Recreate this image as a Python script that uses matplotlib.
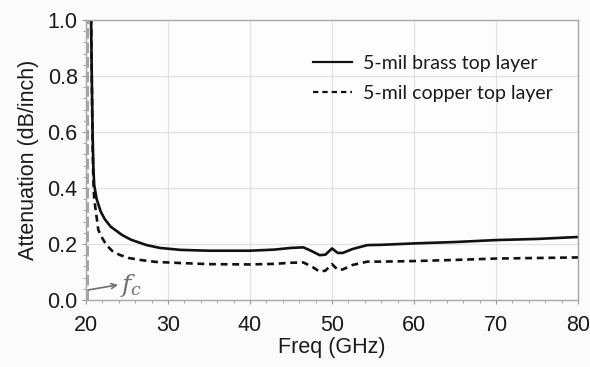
import matplotlib.pyplot as plt
from matplotlib.lines import Line2D
from matplotlib.ticker import MultipleLocator

# 5-mil brass top layer
freq_brass = [20.6, 20.7, 20.8, 20.9, 21.0, 21.3, 21.8, 22.3, 23.0, 24.4, 25.5,
              27.4, 29.0, 31.5, 35, 40, 43, 45, 46.5, 47.5, 48.5, 49.2, 50,
              50.7, 51.3, 52.5, 54.3, 56, 60, 65, 70, 75, 80]
atten_brass = [1.05, 0.80, 0.60, 0.47, 0.41, 0.36, 0.315, 0.288, 0.262, 0.232,
               0.215, 0.196, 0.186, 0.179, 0.176, 0.176, 0.180, 0.186, 0.188,
               0.175, 0.160, 0.162, 0.184, 0.168, 0.168, 0.182, 0.196, 0.197,
               0.202, 0.207, 0.214, 0.218, 0.225]

# 5-mil copper top layer
freq_copper = [20.6, 20.7, 20.8, 20.9, 21.0, 21.5, 22.0, 22.5, 23.2, 24.1,
               25.2, 26.6, 28.5, 31.5, 35, 40, 43, 45, 46.5, 47.5, 48.5, 49.2,
               50, 50.7, 51.3, 52.5, 54.3, 56, 60, 65, 70, 75, 80]
atten_copper = [1.05, 0.80, 0.55, 0.42, 0.36, 0.25, 0.22, 0.196, 0.175, 0.161,
                0.150, 0.143, 0.136, 0.132, 0.128, 0.127, 0.129, 0.133, 0.134,
                0.120, 0.101, 0.105, 0.128, 0.108, 0.109, 0.125, 0.137, 0.137,
                0.139, 0.143, 0.148, 0.150, 0.152]

f_cutoff = 20.3
labels = ["5-mil brass top layer", "5-mil copper top layer"]

plt.rcParams['font.family'] = ['Liberation Sans', 'DejaVu Sans']

fig = plt.figure(figsize=(5.9, 3.67), dpi=100, facecolor='#fbfbfb')
ax = fig.add_axes([0.1458, 0.1826, 0.8339, 0.7629])
ax.set_facecolor('#fdfdfd')

ax.plot(freq_brass, atten_brass, color='#111111', lw=1.9, solid_joinstyle='round')
ax.plot(freq_copper, atten_copper, color='#111111', lw=1.9, linestyle=(0, (2.6, 1.8)))

# cutoff marker
ax.plot([f_cutoff, f_cutoff], [0, 1.0], color='#8a8a8a', lw=1.1, linestyle=(0, (7, 2.5)))
ax.annotate('', xy=(23.9, 0.054), xytext=(f_cutoff, 0.036),
            arrowprops=dict(arrowstyle='->', color='#707070', lw=1.2,
                            mutation_scale=9, shrinkA=0, shrinkB=0))
ax.text(24.1, 0.052, r'$f_c$', color='#707070', fontsize=18, va='center',
        ha='left', math_fontfamily='dejavuserif')

ax.set_xlim(20, 80)
ax.set_ylim(0, 1.0)
ax.xaxis.set_major_locator(MultipleLocator(10))
ax.xaxis.set_minor_locator(MultipleLocator(2))
ax.yaxis.set_major_locator(MultipleLocator(0.2))
ax.yaxis.set_minor_locator(MultipleLocator(0.04))
ax.yaxis.set_major_formatter(plt.FormatStrFormatter('%.1f'))
ax.grid(True, which='major', color='#e2e2e2', lw=0.9)
ax.set_axisbelow(True)

for s in ax.spines.values():
    s.set_color('#a8a8a8')
    s.set_linewidth(1.0)
ax.tick_params(which='both', color='#999999', direction='out', labelsize=15.5,
               labelcolor='#1a1a1a')
ax.tick_params(which='major', length=3)
ax.tick_params(which='minor', length=2.5)
ax.tick_params(axis='x', pad=8)
ax.tick_params(axis='y', pad=3)

ax.set_xlabel('Freq (GHz)', fontsize=15.5, color='#1a1a1a')
ax.set_ylabel('Attenuation (dB/inch)', fontsize=15.5, color='#1a1a1a')
ax.xaxis.set_label_coords(0.5, -0.132)
ax.yaxis.set_label_coords(-0.095, 0.5)

# legend
handles = [Line2D([], [], color='#111111', lw=1.6),
           Line2D([], [], color='#111111', lw=1.6, linestyle=(0, (2.4, 1.8)))]
leg = ax.legend(handles, labels, loc='upper left', bbox_to_anchor=(0.461, 0.874),
                frameon=False, handlelength=2.0, handletextpad=0.57,
                labelspacing=0.65, borderpad=0, borderaxespad=0,
                prop={'family': 'Lato', 'size': 14})
for t in leg.get_texts():
    t.set_color('#1a1a1a')

fig.savefig('out.png', dpi=100, facecolor=fig.get_facecolor())
